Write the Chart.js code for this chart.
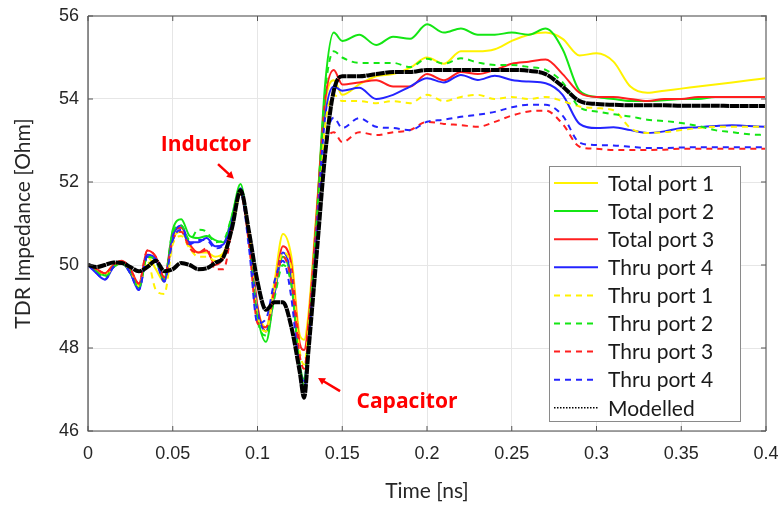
<!DOCTYPE html>
<html>
<head>
<meta charset="utf-8">
<title>TDR Impedance</title>
<script src="https://cdn.jsdelivr.net/npm/chart.js@4.4.1/dist/chart.umd.min.js"></script>
<style>
  html, body { margin: 0; padding: 0; background: #fff; }
  #wrap { width: 781px; height: 506px; }
</style>
</head>
<body>
<div id="wrap"><canvas id="tdrChart" width="781" height="506"></canvas></div>
<script>
// time axis in ns, shared by every curve
const times = [0, 0.005, 0.01, 0.015, 0.02, 0.025, 0.03, 0.035, 0.04, 0.045,
  0.05, 0.055, 0.06, 0.065, 0.07, 0.075, 0.08, 0.085, 0.09, 0.095,
  0.1, 0.105, 0.11, 0.115, 0.12, 0.125, 0.1275, 0.13, 0.135, 0.14, 0.145,
  0.15, 0.16, 0.17, 0.18, 0.19, 0.2, 0.21, 0.22, 0.23, 0.24,
  0.25, 0.26, 0.27, 0.28, 0.29, 0.3, 0.31, 0.32, 0.33, 0.34,
  0.35, 0.36, 0.37, 0.38, 0.39, 0.4];

const xTickLabels = ['0', '0.05', '0.1', '0.15', '0.2', '0.25', '0.3', '0.35', '0.4'];
const yTickLabels = ['46', '48', '50', '52', '54', '56'];

const seriesNames = ['Total port 1', 'Total port 2', 'Total port 3', 'Thru port 4',
  'Thru port 1', 'Thru port 2', 'Thru port 3', 'Thru port 4', 'Modelled'];

// impedance values (Ohm)
const totalPort1 = [50.0, 49.9, 49.8, 50.0, 50.05, 49.85, 49.5, 50.2, 49.9, 49.6,
  50.6, 50.8, 50.45, 50.3, 50.3, 50.2, 50.3, 50.9, 51.7, 50.8,
  49.0, 48.5, 49.6, 50.75, 50.2, 48.3, 48.2, 48.8, 51.4, 53.9, 54.45,
  54.1, 54.35, 54.55, 54.6, 54.75, 55.0, 54.85, 55.15, 55.15, 55.2,
  55.4, 55.55, 55.6, 55.45, 55.05, 55.1, 54.9, 54.3, 54.15, 54.2,
  54.25, 54.3, 54.35, 54.4, 54.45, 54.5];
const totalPort2 = [50.0, 49.85, 49.75, 49.95, 50.05, 49.8, 49.45, 50.2, 50.15, 49.65,
  50.85, 51.1, 50.7, 50.65, 50.7, 50.6, 50.55, 51.2, 51.95, 50.6,
  48.8, 48.15, 49.3, 50.2, 49.6, 47.6, 47.25, 48.3, 51.2, 54.4, 55.6,
  55.4, 55.55, 55.3, 55.5, 55.45, 55.8, 55.6, 55.7, 55.55, 55.55,
  55.6, 55.55, 55.7, 55.2, 54.2, 54.05, 54.0, 53.95, 53.95, 53.97,
  54.0, 54.0, 54.05, 54.05, 54.05, 54.05];
const totalPort3 = [50.0, 49.9, 49.8, 50.0, 50.1, 49.9, 49.55, 50.35, 50.2, 49.7,
  50.7, 50.9, 50.5, 50.3, 50.35, 50.0, 50.2, 51.0, 51.75, 50.8,
  49.0, 48.4, 49.4, 50.45, 50.0, 48.1, 47.95, 48.6, 51.3, 54.0, 54.7,
  54.35, 54.4, 54.45, 54.3, 54.3, 54.6, 54.45, 54.65, 54.6, 54.7,
  54.85, 54.9, 54.95, 54.6, 54.15, 54.05, 54.05, 54.0, 53.95, 54.0,
  54.0, 54.05, 54.05, 54.05, 54.05, 54.05];
const totalPort4 = [50.0, 49.8, 49.65, 49.95, 50.05, 49.8, 49.4, 50.25, 50.15, 49.6,
  50.7, 50.95, 50.55, 50.55, 50.65, 50.45, 50.5, 51.1, 51.85, 50.7,
  48.9, 48.4, 49.3, 50.3, 49.7, 47.5, 47.2, 48.2, 51.0, 53.6, 54.3,
  54.2, 54.27, 54.0, 54.1, 54.3, 54.5, 54.4, 54.58, 54.46, 54.56,
  54.46, 54.42, 54.38, 54.1, 53.4, 53.3, 53.32, 53.25, 53.18, 53.22,
  53.3, 53.32, 53.35, 53.37, 53.35, 53.33];
const thruPort1 = [50.0, 49.9, 49.75, 49.95, 50.05, 49.85, 49.5, 50.1, 49.4, 49.3,
  50.5, 50.7, 50.4, 50.2, 50.2, 50.1, 50.3, 50.9, 51.75, 50.7,
  48.8, 48.4, 49.4, 50.3, 49.9, 47.9, 47.6, 48.4, 51.0, 53.4, 54.1,
  53.95, 53.95, 53.9, 53.95, 53.9, 54.1, 53.95, 54.05, 54.1, 54.0,
  54.05, 54.0, 54.05, 53.95, 53.82, 53.78, 53.73, 53.3, 53.18, 53.2,
  53.25, 53.3, 53.33, 53.33, 53.33, 53.33];
const thruPort2 = [50.0, 49.85, 49.7, 49.95, 50.05, 49.85, 49.45, 50.2, 50.1, 49.65,
  50.8, 50.95, 50.6, 50.85, 50.8, 50.55, 50.6, 51.2, 51.85, 50.6,
  48.7, 48.3, 49.2, 50.0, 49.5, 47.5, 47.1, 48.2, 51.1, 54.2, 55.15,
  55.0, 54.87, 54.87, 54.87, 54.77, 54.97, 54.85, 54.98, 54.88, 54.82,
  54.82, 54.77, 54.7, 54.4, 53.8, 53.7, 53.63, 53.58, 53.5, 53.47,
  53.42, 53.35, 53.25, 53.2, 53.15, 53.13];
const thruPort3 = [50.0, 49.9, 49.8, 50.0, 50.1, 49.9, 49.55, 50.35, 50.2, 49.7,
  50.6, 50.8, 50.4, 50.3, 50.4, 49.9, 49.9, 50.9, 51.7, 50.5,
  48.6, 48.5, 49.4, 50.2, 49.6, 47.8, 47.5, 48.3, 50.9, 52.8, 53.2,
  52.96, 53.2, 53.13, 53.2, 53.25, 53.45, 53.4, 53.37, 53.33, 53.45,
  53.6, 53.7, 53.72, 53.4, 52.85, 52.8, 52.77, 52.77, 52.77, 52.78,
  52.8, 52.8, 52.8, 52.8, 52.8, 52.8];
const thruPort4 = [50.0, 49.8, 49.65, 49.95, 50.05, 49.8, 49.4, 50.2, 50.1, 49.6,
  50.6, 50.85, 50.5, 50.6, 50.6, 50.4, 50.5, 51.0, 51.75, 50.4,
  48.6, 48.7, 49.6, 50.1, 49.2, 47.3, 46.95, 48.0, 50.7, 52.9, 53.55,
  53.3, 53.54, 53.33, 53.3, 53.25, 53.45, 53.5, 53.57, 53.62, 53.69,
  53.8, 53.86, 53.86, 53.6, 52.95, 52.89, 52.88, 52.85, 52.82, 52.82,
  52.83, 52.84, 52.84, 52.84, 52.84, 52.84];
const modelled = [50.0, 49.95, 50.0, 50.06, 50.05, 49.95, 49.85, 49.95, 50.1, 49.85,
  49.9, 50.05, 50.0, 49.9, 49.92, 50.05, 50.2, 50.9, 51.8, 50.8,
  49.6, 48.92, 49.1, 49.1, 48.5, 47.4, 46.8, 47.9, 50.3, 52.7, 54.2,
  54.55, 54.55, 54.6, 54.65, 54.65, 54.7, 54.7, 54.7, 54.7, 54.7,
  54.7, 54.68, 54.6, 54.3, 53.95, 53.88, 53.86, 53.85, 53.85, 53.85,
  53.84, 53.84, 53.84, 53.83, 53.83, 53.83];

const YELLOW = '#fff200';
const GREEN = '#14e614';
const RED = '#ff1f1f';
const BLUE = '#2424ff';
const DASH = [6, 5];

function toPoints(values) {
  return times.map((t, i) => ({ x: t, y: values[i] }));
}

function makeSet(idx, values, color, dashed, order) {
  return {
    label: seriesNames[idx],
    data: toPoints(values),
    borderColor: color,
    borderWidth: 2,
    borderDash: dashed ? DASH : [],
    pointRadius: 0,
    fill: false,
    cubicInterpolationMode: 'monotone',
    order: order
  };
}

const datasets = [
  makeSet(0, totalPort1, YELLOW, false, 9),
  makeSet(1, totalPort2, GREEN, false, 8),
  makeSet(2, totalPort3, RED, false, 7),
  makeSet(3, totalPort4, BLUE, false, 6),
  makeSet(4, thruPort1, YELLOW, true, 5),
  makeSet(5, thruPort2, GREEN, true, 4),
  makeSet(6, thruPort3, RED, true, 3),
  makeSet(7, thruPort4, BLUE, true, 2),
  {
    label: seriesNames[8],
    data: toPoints(modelled),
    borderColor: '#000',
    borderWidth: 4,
    borderDash: [9, 0.6],
    pointRadius: 0,
    fill: false,
    cubicInterpolationMode: 'monotone',
    order: 0
  }
];

// box around plot + inward ticks on all four sides (matlab style)
const boxPlugin = {
  id: 'box',
  afterDatasetsDraw(chart) {
    const { ctx, chartArea: a, scales } = chart;
    ctx.save();
    ctx.strokeStyle = '#a0a0a0';
    ctx.lineWidth = 2;
    ctx.beginPath();
    ctx.moveTo(a.left, a.top); ctx.lineTo(a.right, a.top); ctx.lineTo(a.right, a.bottom);
    ctx.stroke();
    ctx.strokeStyle = '#4a4a4a';
    ctx.lineWidth = 1.2;
    ctx.beginPath();
    ctx.moveTo(a.left, a.top); ctx.lineTo(a.left, a.bottom); ctx.lineTo(a.right, a.bottom);
    ctx.stroke();
    ctx.strokeStyle = '#555';
    ctx.lineWidth = 1;
    ctx.beginPath();
    scales.x.ticks.forEach(tk => {
      const px = scales.x.getPixelForValue(tk.value);
      ctx.moveTo(px, a.bottom); ctx.lineTo(px, a.bottom - 5);
      ctx.moveTo(px, a.top); ctx.lineTo(px, a.top + 5);
    });
    scales.y.ticks.forEach(tk => {
      const py = scales.y.getPixelForValue(tk.value);
      ctx.moveTo(a.left, py); ctx.lineTo(a.left + 5, py);
      ctx.moveTo(a.right, py); ctx.lineTo(a.right - 5, py);
    });
    ctx.stroke();
    ctx.restore();
  }
};

// red labels with arrows, placed in data coordinates
const notes = [
  { text: 'Inductor', tx: 0.0696, ty: 52.9, from: [0.0767, 52.43], to: [0.0861, 52.08] },
  { text: 'Capacitor', tx: 0.1882, ty: 46.7, from: [0.1487, 46.96], to: [0.1357, 47.28] }
];

const notePlugin = {
  id: 'notes',
  afterDatasetsDraw(chart) {
    const { ctx, scales: { x, y } } = chart;
    ctx.save();
    ctx.fillStyle = '#ff0000';
    ctx.strokeStyle = '#ff0000';
    ctx.font = 'bold 21px "Open Sans", Lato, sans-serif';
    ctx.textAlign = 'center';
    ctx.textBaseline = 'middle';
    notes.forEach(n => {
      ctx.fillText(n.text, x.getPixelForValue(n.tx), y.getPixelForValue(n.ty));
      const x1 = x.getPixelForValue(n.from[0]), y1 = y.getPixelForValue(n.from[1]);
      const x2 = x.getPixelForValue(n.to[0]), y2 = y.getPixelForValue(n.to[1]);
      const ang = Math.atan2(y2 - y1, x2 - x1);
      ctx.lineWidth = 2.5;
      ctx.beginPath();
      ctx.moveTo(x1, y1);
      ctx.lineTo(x2 - 5 * Math.cos(ang), y2 - 5 * Math.sin(ang));
      ctx.stroke();
      ctx.beginPath();
      ctx.moveTo(x2, y2);
      ctx.lineTo(x2 - 8 * Math.cos(ang - 0.5), y2 - 8 * Math.sin(ang - 0.5));
      ctx.lineTo(x2 - 8 * Math.cos(ang + 0.5), y2 - 8 * Math.sin(ang + 0.5));
      ctx.closePath();
      ctx.fill();
    });
    ctx.restore();
  }
};

// legend drawn inside the axes, lower right
const legendPlugin = {
  id: 'boxLegend',
  afterDraw(chart) {
    const { ctx, chartArea: a } = chart;
    const w = 191, h = 255, rowH = 28.1;
    const left = a.right - 26 - w, top = a.bottom - 10 - h;
    ctx.save();
    ctx.fillStyle = '#fff';
    ctx.fillRect(left, top, w, h);
    ctx.strokeStyle = '#8a8a8a';
    ctx.lineWidth = 1;
    ctx.strokeRect(left + 0.5, top + 0.5, w, h);
    ctx.font = '21px Lato, "Open Sans", sans-serif';
    ctx.textBaseline = 'middle';
    ctx.textAlign = 'left';
    datasets.forEach((ds, i) => {
      const cy = top + 17 + i * rowH;
      ctx.beginPath();
      ctx.strokeStyle = ds.borderColor;
      if (i === 8) {
        ctx.lineWidth = 1.5;
        ctx.setLineDash([1.5, 1.5]);
      } else {
        ctx.lineWidth = 2;
        ctx.setLineDash(ds.borderDash);
      }
      ctx.moveTo(left + 5, cy);
      ctx.lineTo(left + 49, cy);
      ctx.stroke();
      ctx.setLineDash([]);
      ctx.fillStyle = '#1a1a1a';
      ctx.fillText(seriesNames[i], left + 59, cy + 1);
    });
    ctx.restore();
  }
};

Chart.defaults.font.family = '"Liberation Sans Narrow", "Liberation Sans", Arial, sans-serif';
Chart.defaults.color = '#262626';

const ctx = document.getElementById('tdrChart').getContext('2d');
const chart = new Chart(ctx, {
  type: 'line',
  data: { datasets: datasets },
  options: {
    responsive: false,
    animation: false,
    layout: { padding: { top: 16, right: 15, left: 0, bottom: 0 } },
    plugins: {
      legend: { display: false },
      tooltip: { enabled: false }
    },
    scales: {
      x: {
        type: 'linear',
        min: 0,
        max: 0.4,
        afterFit(s) { s.height = 75; s.paddingLeft = 0; s.paddingRight = 0; },
        ticks: {
          stepSize: 0.05,
          autoSkip: false,
          maxRotation: 0,
          padding: 12,
          font: { size: 18 },
          callback: (v) => xTickLabels[Math.round(v / 0.05)]
        },
        grid: { color: '#e6e6e6', drawTicks: false },
        border: { display: false },
        title: {
          display: true,
          text: 'Time [ns]',
          font: { size: 21, family: 'Lato, "Open Sans", sans-serif' },
          padding: { top: 4, bottom: 2 }
        }
      },
      y: {
        type: 'linear',
        min: 46,
        max: 56,
        afterFit(s) { s.width = 88; s.paddingTop = 0; s.paddingBottom = 0; },
        ticks: {
          stepSize: 2,
          padding: 9,
          font: { size: 18 },
          callback: (v) => yTickLabels[Math.round((v - 46) / 2)]
        },
        grid: { color: '#e6e6e6', drawTicks: false },
        border: { display: false },
        title: {
          display: true,
          text: 'TDR Impedance [Ohm]',
          font: { size: 21, family: 'Lato, "Open Sans", sans-serif' },
          padding: { top: 11, bottom: 0 }
        }
      }
    }
  },
  plugins: [boxPlugin, notePlugin, legendPlugin]
});
</script>
</body>
</html>
